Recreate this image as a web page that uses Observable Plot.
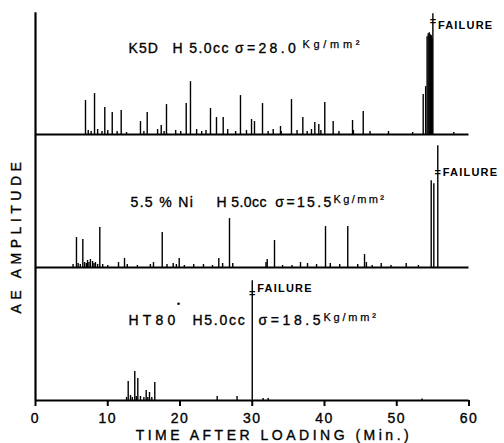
<!DOCTYPE html>
<html>
<head>
<meta charset="utf-8">
<script src="https://cdn.jsdelivr.net/npm/d3@7"></script>
<script src="https://cdn.jsdelivr.net/npm/@observablehq/plot@0.6"></script>
<style>
  html, body { margin: 0; padding: 0; background: #fff; }
  #chart svg { display: block; }
</style>
</head>
<body>
<div id="chart"></div>
<script>
// ---- Data (time in minutes, AE amplitude in arbitrary units) ----
const panels = ["K5D", "Ni", "HT80"];

const k5dTime = [6.92, 7.3, 7.7, 8.17, 8.6, 9.2, 9.59, 10.0, 10.62, 11.3, 11.86, 12.6, 14.53, 15.0, 15.46, 16.9, 17.4, 17.8, 18.13, 19.4, 20.1, 20.86, 21.45, 22.3, 23.0, 23.6, 24.22, 25.05, 25.98, 26.6, 27.7, 28.37, 29.2, 29.9, 30.31, 31.42, 32.2, 32.9, 33.91, 34.0, 35.43, 36.2, 37.0, 37.6, 38.2, 38.66, 39.21, 39.5, 40.04, 41.2, 42.0, 43.88, 44.0, 45.36, 46.3, 48.86, 52.2, 53.66, 54.0, 54.2, 54.35, 54.5, 54.65, 54.8, 54.9, 55.0, 57.9];
const k5dAmp  = [34, 4, 3, 41, 5, 3, 27, 4, 22, 3, 24, 2, 13, 3, 22, 5, 9, 3, 30, 4, 3, 31, 53, 5, 3, 4, 26, 17, 17, 5, 3, 39, 4, 15, 13, 31, 3, 5, 8, 3, 35, 4, 17, 3, 5, 12, 10, 4, 32, 13, 3, 14, 4, 23, 3, 3, 2, 40, 48, 98, 101, 102, 100, 99, 96, 121, 2];

const niTime = [5.2, 5.67, 5.9, 6.2, 6.55, 6.8, 7.05, 7.2, 7.4, 7.6, 7.9, 8.1, 8.3, 8.6, 8.9, 9.3, 10.0, 11.49, 12.32, 12.7, 14.1, 15.9, 16.33, 17.54, 18.2, 19.06, 19.5, 19.89, 20.6, 21.9, 23.25, 24.5, 25.37, 25.9, 26.85, 27.3, 31.9, 32.07, 33.08, 34.2, 35.5, 36.68, 37.65, 38.9, 40.14, 40.8, 42.1, 43.22, 44.6, 45.54, 45.8, 46.6, 47.85, 49.2, 51.31, 53.0, 54.77, 55.13, 55.68];
const niAmp  = [3, 30, 4, 3, 28, 5, 4, 7, 5, 8, 6, 4, 5, 3, 40, 3, 2, 5, 9, 3, 2, 3, 5, 35, 3, 4, 3, 9, 2, 3, 3, 2, 9, 4, 49, 4, 5, 8, 27, 2, 2, 5, 4, 3, 41, 4, 3, 41, 3, 13, 5, 2, 4, 2, 4, 2, 87, 84, 122];

const ht80Time = [12.6, 12.83, 13.15, 13.4, 13.74, 13.95, 14.16, 14.53, 15.0, 15.32, 15.55, 15.78, 16.1, 16.51, 25.15, 27.9, 30.0, 31.5, 32.2, 53.5];
const ht80Amp  = [3, 19, 5, 3, 29, 4, 22, 4, 3, 10, 3, 8, 3, 18, 4, 4, 120, 2, 2, 1.5];

// failure annotations (per panel)
const failTime = [55.0, 55.68, 30.0];
const failMarkAmp = [113, 95, 107];
const failLabelAmp = [109, 95, 112];

// panel titles, split in pieces: text, start time, end time, amplitude position
const titleText = [
  ["K5D", "H 5.0cc", "σ=28.0", "Kg/mm²"],
  ["5.5 % Ni", "H 5.0cc", "σ=15.5", "Kg/mm²"],
  ["HT80", "H5.0cc", "σ=18.5", "Kg/mm²"]
];
const titleTime = [
  [12.87, 18.96, 27.6, 36.95],
  [13.15, 25.05, 33.2, 41.25],
  [12.87, 21.73, 30.86, 39.86]
];
const titleEnd = [
  [17.02, 26.8, 36.26, 45.1],
  [21.87, 32.0, 41.11, 48.4],
  [19.65, 29.07, 39.72, 47.3]
];
const titleAmp = [
  [86, 86, 86, 90],
  [65, 65, 65, 68],
  [80, 80, 80, 83]
];
const titleSup = [false, false, false, true];
const degreeTime = 19.8, degreeAmp = 97;

const xTicks = [0, 10, 20, 30, 40, 50, 60];
const axisTop = [122, 133.3, 133.3];

// ---- Build tables ----
const series = [[k5dTime, k5dAmp], [niTime, niAmp], [ht80Time, ht80Amp]];
const events = series.flatMap(([T, A], i) => T.map((t, j) => ({panel: panels[i], t, amp: A[j]})));
const fails = panels.map((p, i) => ({panel: p, t: failTime[i], mark: failMarkAmp[i], label: failLabelAmp[i]}));
const titles = panels.flatMap((p, i) => titleText[i].map((s, j) => ({panel: p, text: s, t: titleTime[i][j], tEnd: titleEnd[i][j], amp: titleAmp[i][j], sup: titleSup[j]})));
const frame = panels.map((p, i) => ({panel: p, top: axisTop[i]}));

const font = "'Liberation Sans', Arial, Helvetica, sans-serif";

const plot = Plot.plot({
  width: 504,
  height: 443,
  marginLeft: 35,
  marginRight: 35.5,
  marginTop: 0,
  marginBottom: 43,
  style: {fontFamily: font, fontSize: "14px", color: "#000", background: "#fff", overflow: "visible"},
  x: {domain: [0, 60], ticks: xTicks, tickSize: 6, tickPadding: 7, label: null},
  y: {domain: [0, 133.3], axis: null},
  fy: {domain: panels, padding: 0, axis: null, label: null},
  marks: [
    Plot.ruleX(events, {x: "t", y1: 0, y2: "amp", fy: "panel", stroke: "#000", strokeWidth: 1.4}),
    Plot.ruleY(frame, {fy: "panel", y: 0, x1: 0, x2: 60, stroke: "#000", strokeWidth: 2.2}),
    Plot.ruleX(frame, {fy: "panel", x: 0, y1: 0, y2: "top", stroke: "#000", strokeWidth: 2.2}),
    Plot.text(fails, {fy: "panel", x: "t", y: "mark", text: () => "=", fontSize: 11, fontWeight: "bold", fill: "#000"}),
    Plot.text(fails, {fy: "panel", x: "t", y: "label", text: () => "FAILURE", textAnchor: "start", dx: 5, fontSize: 11, fontWeight: "bold", fill: "#000"}),
    Plot.text(titles.filter(d => !d.sup), {fy: "panel", x: "t", y: "amp", text: "text", textAnchor: "start", fontSize: 14, fill: "#000", stroke: "#000", strokeWidth: 0.35}),
    Plot.text(titles.filter(d => d.sup), {fy: "panel", x: "t", y: "amp", text: "text", textAnchor: "start", fontSize: 11, fill: "#000", stroke: "#000", strokeWidth: 0.25}),
    Plot.dot([{panel: "HT80", t: degreeTime, amp: degreeAmp}], {fy: "panel", x: "t", y: "amp", r: 1.3, fill: "#000", stroke: null}),
    Plot.text([{panel: "Ni", t: 0, amp: 32}], {fy: "panel", x: "t", y: "amp", text: () => "AE AMPLITUDE", rotate: -90, dx: -19, fontSize: 14, fill: "#000", stroke: "#000", strokeWidth: 0.35}),
    Plot.text([{panel: "HT80", t: 33.0, amp: 0}], {fy: "panel", x: "t", y: "amp", text: () => "TIME AFTER LOADING (Min.)", dy: 35, fontSize: 14, fill: "#000", stroke: "#000", strokeWidth: 0.35})
  ]
});

document.getElementById("chart").appendChild(plot);

// letter spacing tweaks to mimic the wide lettering of the original
const root = d3.select(plot);
root.selectAll("text").each(function () {
  const s = this.textContent;
  let ls = "1.5px";
  if (s === "AE AMPLITUDE") ls = "4.5px";
  else if (s === "TIME AFTER LOADING (Min.)") ls = "3.5px";
  else if (s === "FAILURE") ls = "1.2px";
  else if (s === "=") ls = "0px";
  d3.select(this).style("letter-spacing", ls);
});
root.selectAll('g[aria-label="x-axis tick"] path').attr("stroke-width", 2);
root.selectAll('g[aria-label="x-axis tick label"] text').attr("font-size", 14).attr("stroke", "#000").attr("stroke-width", 0.35);

// fit each title piece to the span it covers in the original (start..end time)
const xs = plot.scale("x"), ys = plot.scale("y"), fys = plot.scale("fy");
const svgRect = plot.getBoundingClientRect();
const textEls = root.selectAll("text").nodes();
for (const d of titles) {
  const ex = xs.apply(d.t), ey = fys.apply(d.panel) + ys.apply(d.amp);
  let best = null, bestDist = Infinity;
  for (const el of textEls) {
    if (el.textContent !== d.text) continue;
    const r = el.getBoundingClientRect();
    const dist = Math.abs(r.left - svgRect.left - ex) + Math.abs((r.top + r.bottom) / 2 - svgRect.top - ey);
    if (dist < bestDist) { bestDist = dist; best = el; }
  }
  if (!best) continue;
  best.style.letterSpacing = "0px";
  const natural = best.getComputedTextLength();
  const target = xs.apply(d.tEnd) - ex;
  const n = [...d.text].length;
  const ls = Math.max(0, (target - natural) / Math.max(1, n - 0.5));
  best.style.letterSpacing = ls.toFixed(2) + "px";
}
</script>
</body>
</html>
